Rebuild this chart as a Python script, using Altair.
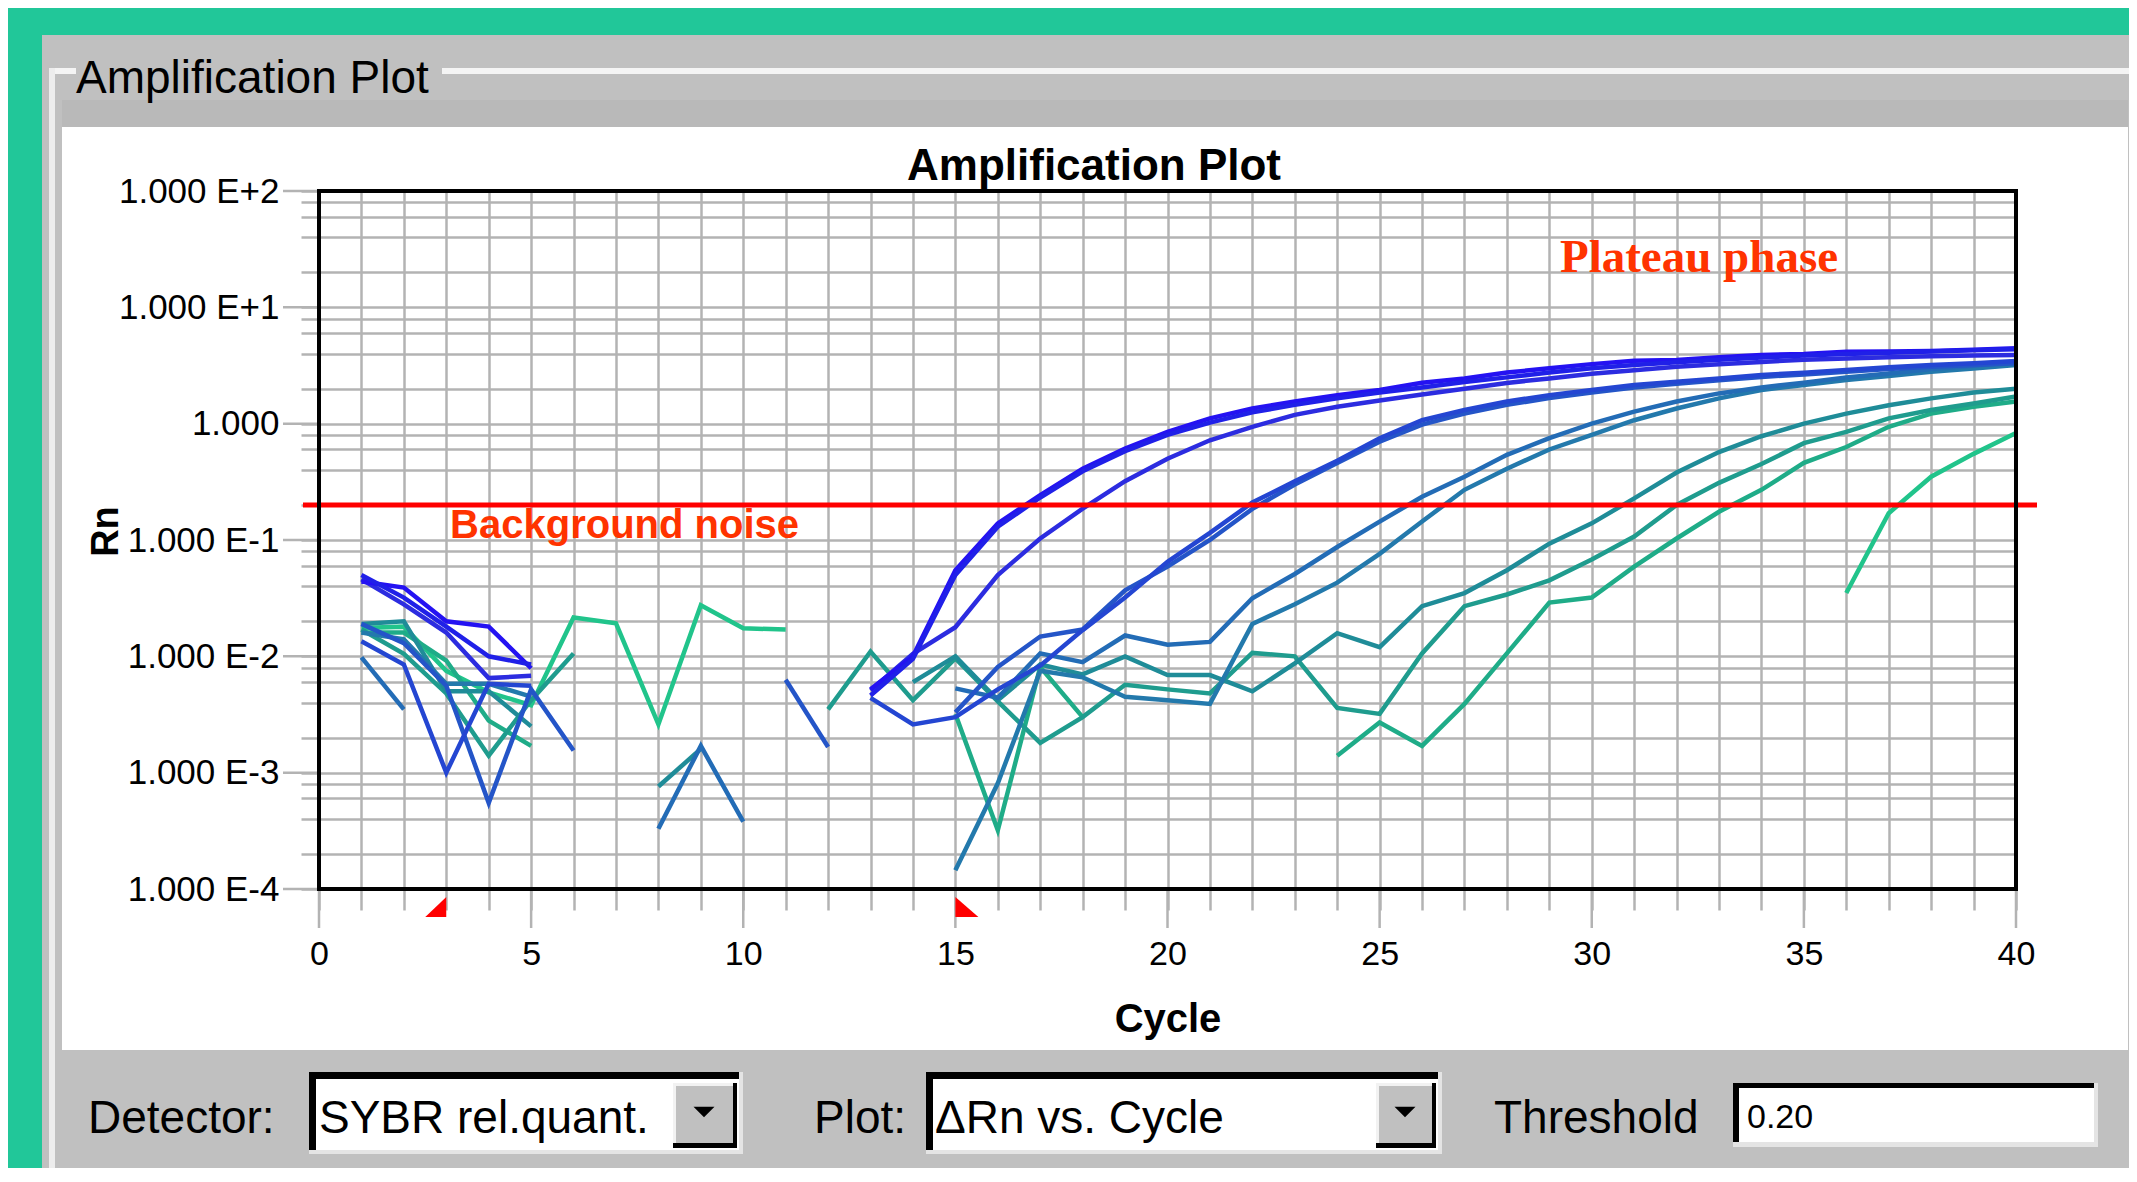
import altair as alt
import pandas as pd

# ---------------- data ----------------
cycles = list(range(1, 41))
N = None

rn_A1 = [0.044, 0.039, 0.020, 0.018, 0.0079, N, N, N, N, N, N, N,
         0.0052, 0.010, 0.055, 0.139, 0.243, 0.41, 0.61, 0.85, 1.11, 1.35, 1.55, 1.76,
         1.95, 2.25, 2.45, 2.75, 2.99, 3.25, 3.48, 3.52, 3.72, 3.89, 3.98, 4.16, 4.17,
         4.22, 4.32, 4.44]
rn_A2 = [0.050, 0.032, 0.018, 0.010, 0.0085, N, N, N, N, N, N, N,
         0.0046, 0.0095, 0.050, 0.130, 0.232, 0.39, 0.58, 0.80, 1.02, 1.25, 1.45, 1.65,
         1.85, 2.05, 2.28, 2.50, 2.75, 3.0, 3.2, 3.38, 3.55, 3.7, 3.85, 3.98, 4.08,
         4.18, 4.28, 4.36]
rn_B = [0.046, 0.028, 0.016, 0.0065, 0.0068, N, N, N, N, N, N, N,
        0.0051, 0.0105, 0.0178, 0.050, 0.103, 0.186, 0.32, 0.50, 0.72, 0.94, 1.19, 1.40,
        1.58, 1.78, 2.0, 2.24, 2.45, 2.69, 2.88, 3.09, 3.24, 3.39, 3.55, 3.63, 3.72,
        3.80, 3.85, 3.9]
rn_C1 = [0.0135, 0.0085, 0.0010, 0.0058, 0.0056, N, N, N, N, N, N, N,
         0.0044, 0.0026, 0.0030, 0.0052, 0.0083, 0.0168, 0.032, 0.065, 0.115, 0.21, 0.32,
         0.48, 0.75, 1.07, 1.31, 1.55, 1.76, 1.95, 2.15, 2.29, 2.45, 2.62, 2.74, 2.9,
         3.05, 3.2, 3.3, 3.45]
rn_C2 = [0.019, 0.013, 0.0056, 0.00055, 0.0052, 0.00155, N, N, N, N, 0.0063, 0.00166,
         N, N, 0.0033, 0.0081, 0.0148, 0.017, 0.037, 0.059, 0.10, 0.185, 0.30, 0.46,
         0.70, 0.98, 1.22, 1.45, 1.66, 1.85, 2.05, 2.2, 2.36, 2.52, 2.65, 2.8, 2.95,
         3.08, 3.2, 3.3]
rn_D1 = [0.0098, 0.0035, N, N, N, N, N, 0.00033, 0.0017, 0.00038, N, N, N, N,
         0.0053, 0.0044, 0.0106, 0.0089, 0.0151, 0.0126, 0.0133, 0.0316, 0.051, 0.087,
         0.144, 0.235, 0.35, 0.54, 0.75, 1.0, 1.27, 1.55, 1.82, 2.05, 2.25, 2.5, 2.7,
         2.95, 3.15, 3.4]
rn_D2 = [0.016, 0.014, 0.0058, 0.0058, 0.0045, N, N, N, N, N, N, N, N, N,
         0.000145, 0.00081, 0.0075, 0.0066, 0.0045, 0.0042, 0.0039, 0.019, 0.028, 0.043,
         0.076, 0.144, 0.27, 0.41, 0.60, 0.80, 1.07, 1.35, 1.65, 1.95, 2.15, 2.37, 2.57,
         2.79, 2.98, 3.19]
rn_E1 = [0.019, 0.020, 0.0050, 0.0050, 0.0025, N, N, 0.00076, 0.0016, N, N, N, N,
         0.0060, 0.0100, 0.0042, 0.0085, 0.0070, 0.010, 0.0069, 0.0069, 0.0050, 0.0087,
         0.0158, 0.012, 0.027, 0.035, 0.055, 0.093, 0.139, 0.228, 0.38, 0.57, 0.78, 1.0,
         1.22, 1.44, 1.65, 1.85, 2.0]
rn_E2 = [0.017, 0.0105, 0.0048, 0.0014, 0.0042, 0.0106, N, N, N, N, N,
         0.0035, 0.011, 0.0042, 0.0096, 0.0041, 0.0018, 0.0030, 0.0057, 0.0052, 0.0048,
         0.0107, 0.0100, 0.0036, 0.0032, 0.0106, 0.027, 0.034, 0.045, 0.068, 0.107, 0.20,
         0.31, 0.45, 0.68, 0.85, 1.11, 1.31, 1.49, 1.71]
rn_E3 = [0.016, 0.016, 0.0092, 0.0028, 0.0017, N, N, N, N, N, N, N, N, N,
         0.0032, 0.00032, 0.0081, 0.0030, N, N, N, N, N,
         0.0014, 0.0027, 0.0017, 0.0039, 0.0106, 0.029, 0.032, 0.059, 0.103, 0.175, 0.27,
         0.46, 0.63, 0.94, 1.22, 1.40, 1.55]
rn_F = [0.0175, 0.018, 0.0075, 0.0049, 0.0038, 0.0216, 0.0192, 0.0026, 0.0275, 0.0174,
        0.017, N, N, N, N, N, N, N, N, N, N, N, N, N, N, N, N, N, N, N, N, N, N, N, N,
        0.035, 0.17, 0.35, 0.55, 0.83]

curve_names = ["A1", "A2", "B", "C1", "C2", "D1", "D2", "E1", "E2", "E3", "F"]
curve_values = [rn_A1, rn_A2, rn_B, rn_C1, rn_C2, rn_D1, rn_D2, rn_E1, rn_E2, rn_E3, rn_F]
curve_colors = ["#2412F2", "#2020E8", "#2C2CE0", "#2446D2", "#2455C8", "#236CB6",
                "#2379AC", "#1F8C98", "#1F9C8E", "#1FAC88", "#21C48B"]
curve_widths = [4.5, 4.5, 3, 2.5, 2.5, 2.5, 2.5, 2.5, 2.5, 2.5, 2.5]

threshold = [0.2]
baseline_start = [3]
baseline_end = [15]
x_ticks = list(range(0, 41))
x_major = list(range(0, 41, 5))
y_major = [1e-4, 1e-3, 1e-2, 1e-1, 1.0, 10.0, 100.0]
y_ticks = [m * d for d in [1e-4, 1e-3, 1e-2, 1e-1, 1.0, 10.0] for m in (1, 2, 4, 6, 8)] + [100.0]

annot_noise = {"text": ["Background noise"], "cycle": [3.09], "rn": [0.104]}
annot_plateau = {"text": ["Plateau phase"], "cycle": [29.25], "rn": [20.1]}

# ---------------- build line table (break at missing values) ----------------
rows = []
for name, vals in zip(curve_names, curve_values):
    seg = 0
    for c, v in zip(cycles, vals):
        if v is None:
            seg += 1
            continue
        rows.append({"curve": name, "seg": f"{name}-{seg}", "cycle": c, "rn": v})
lines_df = pd.DataFrame(rows)
thin_df = lines_df[~lines_df["curve"].isin(["A1", "A2"])].iloc[::-1]
thick_df = lines_df[lines_df["curve"].isin(["A1", "A2"])]

# ---------------- layout ----------------
W, H = 1697, 698
X0, Y0 = 319, 191          # page position of the plot origin
SANS = "Liberation Sans, Arial, sans-serif"
SERIF = "Liberation Serif, Times New Roman, serif"
GRID = "#B3B3B3"

xs = alt.Scale(domain=[0, 40], nice=False, zero=False)
ys = alt.Scale(type="log", domain=[1e-4, 100], nice=False)

ylabel_expr = (
    "abs(log(datum.value)/LN10 - round(log(datum.value)/LN10)) < 0.001 ? "
    "(round(log(datum.value)/LN10) == 0 ? '1.000' : '1.000 E' + "
    "(round(log(datum.value)/LN10) > 0 ? '+' : '') + round(log(datum.value)/LN10)) : ''"
)

x_axis = alt.Axis(
    values=x_ticks, grid=True, gridColor=GRID, gridWidth=2.5, gridOpacity=1,
    domain=False, ticks=True, tickColor=GRID, tickWidth=2.5, tickSize=21,
    labelExpr="datum.value % 5 == 0 ? datum.label : ''", labelOverlap=False,
    labelFont=SANS, labelFontSize=34, labelColor="black", labelPadding=27,
    labelFlush=False,
    title="Cycle", titleFont=SANS, titleFontSize=40, titleFontWeight="bold",
    titleColor="black", titleX=W / 2, titleY=142, titleBaseline="alphabetic",
    titleAlign="center")
y_axis = alt.Axis(
    values=y_ticks, grid=True, gridColor=GRID, gridWidth=2.5, gridOpacity=1,
    domain=False, ticks=True, tickColor=GRID, tickWidth=2.5, tickSize=18,
    labelExpr=ylabel_expr, labelOverlap=False, labelFont=SANS, labelFontSize=35,
    labelColor="black", labelPadding=22, labelBaseline="middle", labelFlush=False,
    title="Rn", titleFont=SANS, titleFontSize=38, titleFontWeight="bold",
    titleColor="black", titleAngle=270, titleX=-213, titleY=340,
    titleAlign="center", titleBaseline="middle")


def X(field):
    return alt.X(field, scale=xs, axis=x_axis)


def Y(field):
    return alt.Y(field, scale=ys, axis=y_axis)


dummy = pd.DataFrame({"k": [0]})


def box(x1, y1, x2, y2, color):
    return alt.Chart(dummy).mark_rect(color=color).encode(
        x=alt.value(x1 - X0), x2=alt.value(x2 - X0),
        y=alt.value(y1 - Y0), y2=alt.value(y2 - Y0))


def label(txt, x, y, size, weight="normal", align="left", font=SANS, color="black"):
    return alt.Chart(dummy).mark_text(
        text=txt, fontSize=size, fontWeight=weight, align=align,
        baseline="alphabetic", font=font, color=color).encode(
        x=alt.value(x - X0), y=alt.value(y - Y0))


def arrow(cx, cy):
    return alt.Chart(dummy).mark_point(
        shape="M -1 -0.5 L 1 -0.5 L 0 0.5 Z", filled=True, color="black",
        size=441, opacity=1, strokeWidth=0).encode(
        x=alt.value(cx - X0), y=alt.value(cy - Y0))


def combo(x1, y1, x2, y2, bx1):
    return [
        box(x1, y1, x2 + 4, y2 + 4, "#E4E4E4"),
        box(x1, y1, x2, y2, "black"),
        box(x1 + 7, y1 + 7, x2, y2, "white"),
        box(bx1, y1 + 11, x2 - 2, y2 - 2, "black"),
        box(bx1, y1 + 11, x2 - 6, y2 - 7, "#C0C0C0"),
        box(bx1, y1 + 11, x2 - 6, y1 + 14, "#F2F2F2"),
        box(bx1, y1 + 11, bx1 + 3, y2 - 7, "#F2F2F2"),
        arrow((bx1 + x2 - 4) / 2, 1112),
    ]


deco = [
    box(0, 0, 2137, 35, "#21C799"),
    box(0, 0, 42, 1182, "#21C799"),
    box(42, 35, 2137, 127, "#C0C0C0"),
    box(56, 100, 2137, 127, "#B9B9B9"),
    box(42, 35, 62, 1182, "#C0C0C0"),
    box(2128, 35, 2137, 1182, "#C0C0C0"),
    box(42, 1050, 2137, 1182, "#C0C0C0"),
    box(50, 68, 76, 74, "#F4F4F4"),
    box(442, 68, 2137, 74, "#F4F4F4"),
    box(49, 68, 55, 1182, "#EDEDED"),
]
deco += combo(309, 1072, 739, 1150, 673)
deco += combo(926, 1072, 1438, 1150, 1376)
deco += [
    box(1733, 1083, 2098, 1147, "#E4E4E4"),
    box(1733, 1083, 2094, 1142, "black"),
    box(1739, 1088, 2094, 1142, "white"),
]

texts = [
    label("Amplification Plot", 76, 93, 46),
    label("Amplification Plot", 1094, 180, 44, weight="bold", align="center"),
    label("Detector:", 88, 1133, 46),
    label("SYBR rel.quant.", 319, 1133, 46),
    label("Plot:", 814, 1133, 46),
    label("\u0394Rn vs. Cycle", 935, 1133, 46),
    label("Threshold", 1494, 1133, 46),
    label("0.20", 1747, 1128, 34),
]

color_scale = alt.Scale(domain=curve_names, range=curve_colors)
width_scale = alt.Scale(domain=curve_names, range=curve_widths)

thin = alt.Chart(thin_df).mark_line().encode(
    x=X("cycle:Q"), y=Y("rn:Q"),
    color=alt.Color("curve:N", scale=color_scale, legend=None),
    strokeWidth=alt.StrokeWidth("curve:N", scale=width_scale, legend=None),
    detail="seg:N")
thick = alt.Chart(thick_df).mark_line().encode(
    x=X("cycle:Q"), y=Y("rn:Q"),
    color=alt.Color("curve:N", scale=color_scale, legend=None),
    strokeWidth=alt.StrokeWidth("curve:N", scale=width_scale, legend=None),
    detail="seg:N")

# major tick marks (longer than the minor ones drawn by the axes)
xmaj = alt.Chart(pd.DataFrame({"cycle": x_major})).mark_rule(color=GRID, strokeWidth=2.5).encode(
    x=X("cycle:Q"), y=alt.value(H), y2=alt.value(H + 39))
ymaj = alt.Chart(pd.DataFrame({"rn": y_major})).mark_rule(color=GRID, strokeWidth=2.5).encode(
    y=Y("rn:Q"), x=alt.value(-36), x2=alt.value(0))

thr = alt.Chart(pd.DataFrame({"rn": threshold})).mark_rule(color="#FF0000", strokeWidth=5).encode(
    y=Y("rn:Q"), x=alt.value(-16), x2=alt.value(W + 21))

noise_txt = alt.Chart(pd.DataFrame(annot_noise)).mark_text(
    font=SANS, fontWeight="bold", fontSize=40, color="#FF3300", align="left",
    baseline="alphabetic").encode(x=X("cycle:Q"), y=Y("rn:Q"), text="text:N")
plateau_txt = alt.Chart(pd.DataFrame(annot_plateau)).mark_text(
    font=SERIF, fontWeight="bold", fontSize=47, color="#FF3300", align="left",
    baseline="alphabetic").encode(x=X("cycle:Q"), y=Y("rn:Q"), text="text:N")

start_mk = alt.Chart(pd.DataFrame({"cycle": baseline_start})).mark_point(
    shape="M 0 -1 L 0 1 L -2.1 1 Z", filled=True, color="#FF0000", size=400,
    opacity=1, strokeWidth=0).encode(x=X("cycle:Q"), y=alt.value(716))
end_mk = alt.Chart(pd.DataFrame({"cycle": baseline_end})).mark_point(
    shape="M 0 -1 L 0 1 L 2.3 1 Z", filled=True, color="#FF0000", size=400,
    opacity=1, strokeWidth=0).encode(x=X("cycle:Q"), y=alt.value(716))

border = alt.Chart(dummy).mark_rect(filled=False, color="black", strokeWidth=4).encode(
    x=alt.value(0), x2=alt.value(W), y=alt.value(0), y2=alt.value(H))

chart = alt.layer(
    *deco, *texts, thin, thick, xmaj, ymaj, thr, noise_txt, plateau_txt,
    start_mk, end_mk, border
).properties(
    width=W, height=H,
    padding={"left": 311, "top": 183, "right": 113, "bottom": 279},
    autosize=alt.AutoSizeParams(type="none"),
    background="white",
).configure_view(strokeWidth=0)

chart.save("out.html", embed_options={"renderer": "svg", "actions": False})
